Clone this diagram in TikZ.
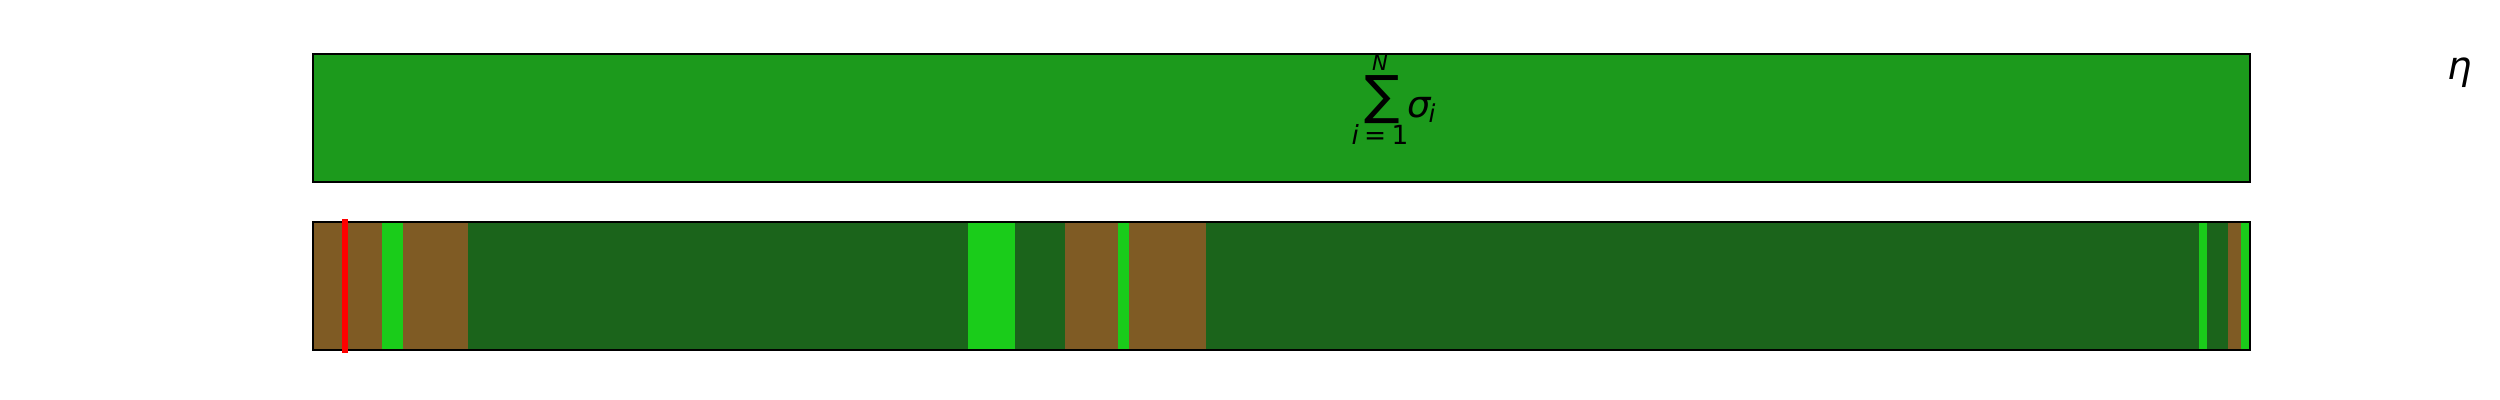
\documentclass[tikz,border=0pt]{standalone}
\usepackage{fontspec}
\setmainfont{DejaVu Sans}
\definecolor{topgreen}{RGB}{28,154,28}
\definecolor{darkgreen}{RGB}{27,100,27}
\definecolor{brightgreen}{RGB}{26,204,26}
\definecolor{brownseg}{RGB}{127,91,36}
\tikzset{
  txt/.style={inner sep=0pt, anchor=base},
  border/.style={draw=black, line width=0.6pt},
}
\begin{document}
\begin{tikzpicture}[x=0.01cm,y=-0.01cm]
\useasboundingbox (0,0) rectangle (2500,400);
% top bar
\fill[topgreen] (313,54) rectangle (2250,182);
\draw[border] (313,54) rectangle (2250,182);
% bottom bar
\fill[darkgreen] (313,222) rectangle (2250,350);
\fill[brownseg] (313,222) rectangle (382,350);
\fill[brightgreen] (382,222) rectangle (403,350);
\fill[brownseg] (403,222) rectangle (468,350);
\fill[brightgreen] (968,222) rectangle (1015,350);
\fill[brownseg] (1065,222) rectangle (1118,350);
\fill[brightgreen] (1118,222) rectangle (1129,350);
\fill[brownseg] (1129,222) rectangle (1206,350);
\fill[brightgreen] (2199,222) rectangle (2207,350);
\fill[brownseg] (2228,222) rectangle (2241,350);
\fill[brightgreen] (2241,222) rectangle (2250,350);
\draw[border] (313,222) rectangle (2250,350);
\draw[red, line width=1.7pt] (345,219) -- (345,353);
% texts
\node[inner sep=0pt, font=\fontsize{15}{15}\selectfont] (sum) at (1382,100) {∑};
\node[txt, font=\fontsize{6}{6}\selectfont\itshape] (N) at (1380,70) {N};
\node[txt, font=\fontsize{7.5}{7.5}\selectfont] (low) at (1380,144) {\itshape i\upshape\hspace{1.5pt}=\hspace{1.5pt}1};
\node[txt, font=\fontsize{10.5}{10.5}\selectfont\itshape, anchor=base west] (sigma) at (1407,117) {σ};
\node[txt, font=\fontsize{7}{7}\selectfont\itshape, anchor=base west] (sub) at (1428,122) {i};
\node[txt, font=\fontsize{11}{11}\selectfont\itshape] (eta) at (2460,79) {η};
\end{tikzpicture}
\end{document}
